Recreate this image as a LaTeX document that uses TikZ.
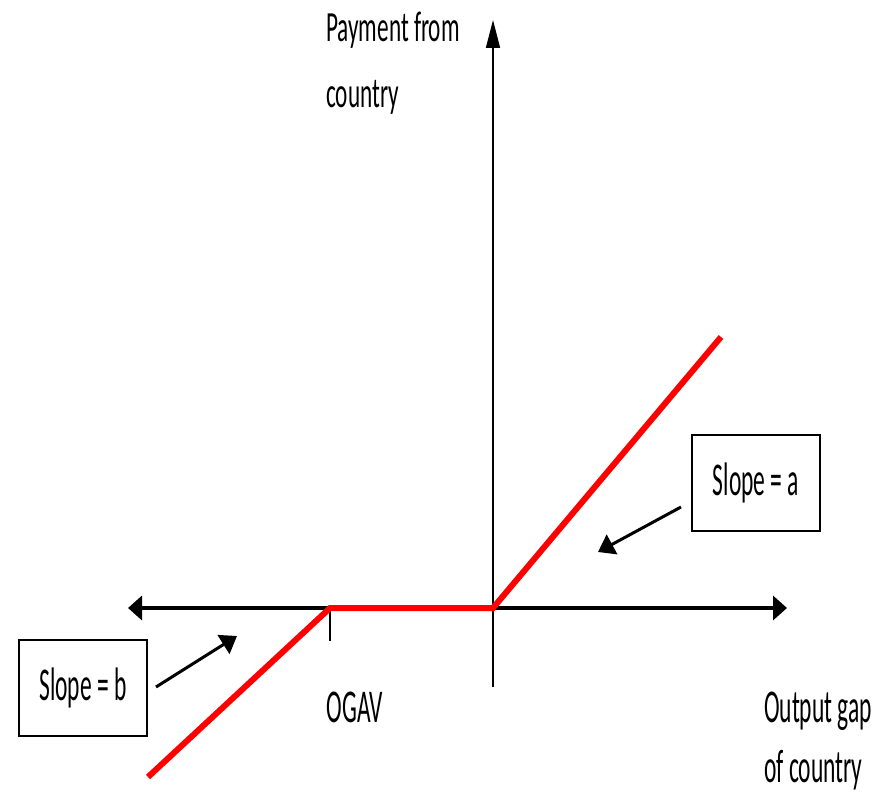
\documentclass[tikz,border=0pt]{standalone}
\usepackage{fontspec}
\setmainfont{Carlito}
\newfontfamily\condA[FakeStretch=0.54]{Carlito}
\newfontfamily\condB[FakeStretch=0.50]{Carlito}
\usetikzlibrary{arrows.meta}
\begin{document}
\begin{tikzpicture}[x=1pt,y=-1pt,
  axisthin/.style={line width=1.6pt},
  axisthick/.style={line width=3.6pt},
  redline/.style={draw=red,line width=6pt,line join=miter},
  labelbox/.style={draw,line width=1.2pt,minimum width=128pt,minimum height=96pt,inner sep=0pt,font=\condB\fontsize{47}{50}\selectfont},
  ptr/.style={line width=3pt,-{Triangle[length=16pt,width=22pt]}},
  lblA/.style={font=\condA\fontsize{43}{46}\selectfont,inner sep=0pt},
  lblB/.style={font=\condB\fontsize{47}{50}\selectfont,inner sep=0pt}]
\useasboundingbox (0,0) rectangle (888,797);
% coordinates
\coordinate (O) at (493,608);
\coordinate (ytop) at (493,20);
\coordinate (ybot) at (493,687);
\coordinate (xl) at (128,608);
\coordinate (xr) at (787,608);
\coordinate (K) at (330,608);
\coordinate (Kt) at (330,641);
\coordinate (R0) at (148,777);
\coordinate (R3) at (721,337);
% axes
\draw[axisthin,-{Triangle[length=28pt,width=14pt]}] (ybot) -- (ytop);
\draw[axisthick,{Triangle[length=14pt,width=24pt]}-{Triangle[length=14pt,width=24pt]}] (xl) -- (xr);
\draw[line width=1.4pt] (K) -- (Kt);
% red payoff line
\draw[redline] (R0) -- (K) -- (O) -- (R3);
% boxes
\node[labelbox] (bb) at (83,688) {Slope = b};
\node[labelbox] (ba) at (756,483) {Slope = a};
\coordinate (pb) at (237,636);
\coordinate (pa) at (598,552);
\coordinate (pbs) at (156,687);
\coordinate (pas) at (681,507);
\draw[ptr] (pbs) -- (pb);
\draw[ptr] (pas) -- (pa);
% labels
\node[lblA,anchor=base west] (p1) at (326,42) {Payment from};
\node[lblA,anchor=base west] (p2) at (326,108) {country};
\node[lblB,anchor=base] (og) at (355,722) {OGAV};
\node[lblB,anchor=base west] (o1) at (764,722) {Output gap};
\node[lblB,anchor=base west] (o2) at (764,782) {of country};
\end{tikzpicture}
\end{document}
